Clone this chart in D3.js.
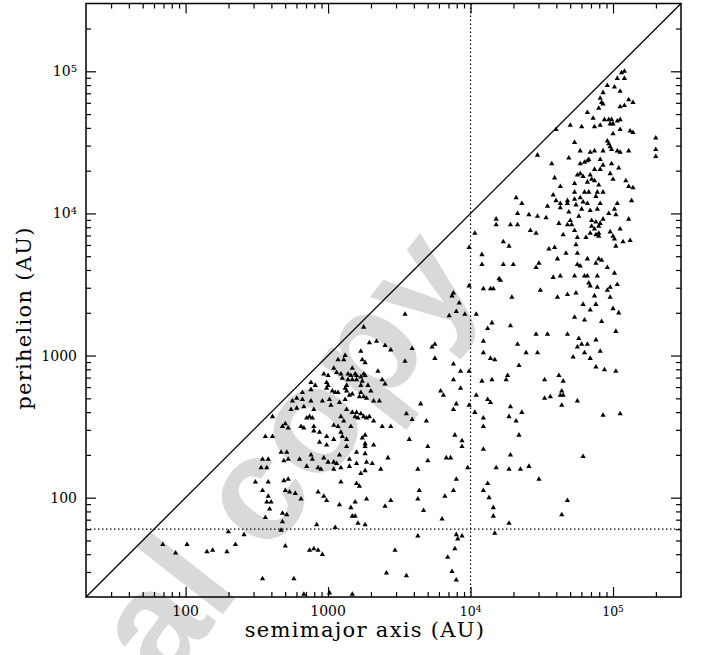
<!DOCTYPE html>
<html lang="en">
<head>
<meta charset="UTF-8">
<title>perihelion vs semimajor axis</title>
<script src="https://d3js.org/d3.v7.min.js"></script>
<style>
  body { margin: 0; background: #fff; }
  svg { display: block; }
  .lbl { font-family: "DejaVu Serif", serif; fill: #000; }
</style>
</head>
<body>
<div id="chart"></div>
<script>
// log10 of semimajor axis (AU)
var logSemimajor = [
  2.61,2.68,2.70,2.72,2.56,2.61,2.67,2.71,2.54,2.58,2.69,2.72,2.53,2.57,2.49,2.58,2.69,2.72,2.54,2.58,
  2.57,2.60,2.70,2.73,2.59,2.56,2.68,2.71,2.68,2.67,2.30,2.41,2.35,1.84,2.01,1.93,2.15,2.19,2.29,2.70,
  2.54,3.25,3.29,3.34,3.40,3.44,3.23,3.12,3.11,3.07,3.24,3.26,3.35,3.04,3.17,2.97,3.00,3.06,3.09,3.14,
  3.16,3.19,3.20,3.23,3.25,3.26,3.10,3.14,3.17,3.20,3.24,3.38,3.40,2.88,2.91,2.99,3.00,3.13,3.23,3.28,
  2.88,3.03,3.05,3.07,3.12,3.13,3.17,3.23,3.30,2.82,2.99,3.15,3.12,3.22,3.25,3.27,2.75,2.78,2.82,2.88,
  2.96,3.01,3.08,3.32,3.36,2.74,2.78,2.83,2.90,3.02,3.13,3.17,3.20,3.23,3.19,3.21,3.25,3.27,3.29,3.32,
  3.09,3.11,2.85,2.87,2.89,3.38,3.44,3.04,3.07,2.81,2.83,2.90,3.16,3.54,3.92,3.90,3.96,3.85,3.59,3.73,
  3.75,3.75,3.54,3.88,3.93,3.99,3.88,3.93,3.79,3.81,3.65,3.99,3.88,3.90,3.55,3.59,3.69,3.87,3.88,2.90,
  2.94,3.09,2.99,3.10,3.04,3.13,3.24,3.26,2.94,2.99,3.13,3.26,3.26,3.32,3.57,3.70,3.89,3.94,3.94,3.20,
  3.26,2.80,2.88,2.89,3.08,2.97,3.00,3.04,3.06,3.15,3.20,3.27,3.31,3.42,2.85,2.93,2.95,3.04,3.09,3.15,
  3.26,3.37,3.70,3.83,3.86,3.98,3.63,3.23,3.09,3.20,3.22,3.90,2.77,2.93,2.97,2.99,2.81,3.27,3.19,3.08,
  3.16,3.44,3.40,3.64,3.63,3.67,3.88,3.82,3.17,3.19,3.21,3.26,2.92,3.80,3.05,3.63,3.90,3.91,3.94,2.87,
  2.90,2.93,2.96,3.47,3.89,3.84,3.41,3.55,3.87,3.90,2.76,3.01,3.17,2.83,4.46,4.54,4.68,5.02,4.09,4.33,
  4.76,4.88,4.75,4.78,4.82,4.91,4.09,4.39,4.47,4.80,4.72,4.84,4.14,4.17,4.34,4.88,4.94,5.02,4.26,4.25,
  4.15,4.08,4.62,4.65,4.52,4.64,4.63,4.65,4.52,4.56,4.64,4.75,4.04,4.12,4.14,4.28,4.36,4.03,4.09,4.27,
  4.32,4.93,5.05,4.09,4.34,4.09,4.28,4.79,4.18,4.27,4.35,4.41,4.48,4.12,4.09,4.13,4.68,4.16,4.16,4.64,
  4.27,4.17,4.58,4.73,4.80,4.83,4.89,4.93,4.88,4.32,4.36,4.60,4.63,4.68,4.68,4.73,4.77,4.74,4.79,4.82,
  4.63,4.54,4.91,4.78,4.84,4.89,5.03,5.01,5.02,5.13,4.33,4.41,4.47,4.53,4.69,4.76,4.97,4.85,4.88,4.91,
  4.93,4.70,4.62,4.68,4.71,5.11,4.18,4.18,4.28,4.33,4.85,4.87,4.90,5.05,4.42,4.46,4.73,4.65,4.84,4.88,
  4.90,4.90,4.98,5.00,5.01,4.03,4.75,4.81,5.07,5.12,5.02,4.23,4.27,4.74,3.99,4.55,4.59,4.08,4.67,4.75,
  4.61,4.82,4.90,4.92,4.88,4.08,4.23,4.30,4.48,4.46,4.75,4.77,4.96,5.01,4.20,4.21,4.58,4.63,4.73,4.80,
  4.82,4.89,4.83,4.84,5.03,3.99,4.09,4.14,4.16,4.49,4.89,4.98,4.96,4.29,4.61,4.68,4.74,4.87,4.98,4.79,
  4.88,4.84,5.00,5.04,4.04,4.73,4.80,4.92,4.15,4.12,4.28,5.06,5.08,5.03,5.08,4.96,5.01,5.05,4.93,4.91,
  4.92,4.93,5.11,5.14,5.05,5.08,4.90,4.82,4.86,4.94,4.97,4.99,5.03,5.05,4.98,5.00,4.70,4.78,4.87,4.91,
  4.60,5.05,5.12,5.14,5.00,4.73,4.96,4.97,4.98,4.47,4.57,4.69,4.77,4.84,4.87,4.93,4.99,5.03,5.05,5.11,
  4.82,4.83,4.80,4.91,4.77,4.99,5.04,4.87,4.93,4.77,4.79,4.75,4.84,4.85,4.87,4.91,4.98,4.59,5.00,5.09,
  4.63,4.90,5.11,5.14,4.73,4.82,5.30,5.30,5.30
];
// log10 of perihelion (AU), same order
var logPerihelion = [
  2.57,2.50,2.52,2.49,2.43,2.43,2.32,2.32,2.27,2.27,2.26,2.27,2.21,2.21,2.11,2.11,2.12,2.13,2.05,2.01,
  1.97,1.97,2.05,2.04,1.92,1.86,1.89,1.88,1.83,1.77,1.76,1.74,1.67,1.67,1.67,1.61,1.62,1.63,1.62,1.66,
  1.43,3.20,3.09,3.10,3.07,3.04,3.03,3.00,2.97,2.97,2.97,2.95,2.89,2.91,2.91,2.87,2.86,2.88,2.87,2.87,
  2.86,2.87,2.86,2.85,2.87,2.86,2.84,2.83,2.83,2.83,2.82,2.83,2.80,2.81,2.79,2.81,2.79,2.79,2.79,2.79,
  2.76,2.75,2.74,2.74,2.77,2.75,2.73,2.74,2.75,2.74,2.77,2.72,2.69,2.71,2.71,2.70,2.68,2.70,2.69,2.68,
  2.68,2.69,2.67,2.68,2.68,2.62,2.63,2.64,2.62,2.65,2.62,2.60,2.60,2.59,2.57,2.56,2.57,2.56,2.57,2.54,
  2.57,2.54,2.56,2.57,2.56,2.50,2.50,2.51,2.50,2.50,2.49,2.50,2.50,3.29,3.37,3.31,3.29,3.28,3.05,3.06,
  3.08,2.98,2.96,2.94,2.89,2.89,2.83,2.77,2.75,2.72,2.66,2.65,2.62,2.66,2.59,2.55,2.54,3.42,3.44,2.47,
  2.46,2.46,2.43,2.43,2.41,2.41,2.42,2.44,2.39,2.37,2.36,2.38,2.36,2.37,2.41,2.36,2.44,2.40,2.36,2.32,
  2.31,2.27,2.30,2.27,2.30,2.28,2.25,2.25,2.24,2.27,2.24,2.25,2.24,2.28,2.22,2.21,2.20,2.20,2.21,2.22,
  2.19,2.20,2.26,2.28,2.28,2.21,2.20,2.17,2.11,2.10,2.08,2.13,2.03,2.04,2.01,1.98,1.99,1.99,1.97,1.95,
  1.93,1.98,1.94,2.05,1.99,1.91,2.05,2.01,1.87,1.87,1.82,1.81,1.81,1.85,1.79,1.73,1.74,1.71,1.73,1.63,
  1.64,1.63,1.60,1.63,1.64,1.58,1.47,1.45,1.48,1.42,1.43,1.33,1.32,1.32,3.15,3.15,3.15,3.17,3.10,3.08,
  3.12,3.11,3.06,3.08,3.08,3.03,3.02,3.02,3.02,3.02,2.99,2.98,2.98,2.97,2.93,2.92,2.90,2.89,2.86,2.83,
  2.83,2.82,2.86,2.82,2.83,2.75,2.72,2.72,2.70,2.71,2.65,2.68,2.72,2.69,2.67,2.64,2.60,2.60,2.56,2.57,
  2.54,2.58,2.59,2.50,2.44,2.34,2.30,2.29,2.21,2.20,2.20,2.22,2.13,2.10,2.05,2.00,1.98,1.93,1.87,1.88,
  1.82,1.75,4.13,4.15,4.15,4.15,4.15,4.15,4.12,4.11,4.07,4.09,4.07,4.09,4.07,4.10,4.11,4.06,4.08,4.07,
  4.04,4.05,4.07,4.03,4.02,4.03,4.07,4.03,3.99,4.09,4.00,3.99,3.98,3.97,4.01,3.98,4.00,3.95,3.94,3.93,
  3.96,3.95,3.93,3.92,3.92,3.96,3.96,3.92,3.92,3.92,3.91,3.89,3.91,3.89,3.88,3.86,3.88,3.85,3.86,3.85,
  3.86,3.84,3.87,3.84,3.82,3.86,3.83,3.83,3.80,3.81,3.77,3.80,3.77,3.78,3.76,3.75,3.76,3.71,3.72,3.72,
  3.68,3.68,3.68,3.67,3.65,3.64,3.64,3.64,3.65,3.62,3.64,3.63,3.62,3.58,3.54,3.53,3.55,3.56,3.56,3.56,
  3.56,3.56,3.51,3.49,3.50,3.49,3.47,3.47,3.47,3.46,3.48,3.48,3.46,3.41,3.41,3.43,3.44,3.42,3.41,3.36,
  3.36,3.32,3.33,3.30,3.29,3.27,3.25,3.24,3.23,3.19,3.21,4.99,5.00,4.95,4.95,4.90,4.89,4.86,4.85,4.81,
  4.78,4.77,4.80,4.78,4.75,4.76,4.74,4.71,4.67,4.66,4.66,4.66,4.65,4.66,4.63,4.63,4.62,4.61,4.61,4.62,
  4.59,4.59,4.58,4.57,4.56,4.50,4.51,4.49,4.47,4.41,4.35,4.39,4.44,4.43,4.44,4.44,4.45,4.44,4.43,4.44,
  4.37,4.38,4.36,4.38,4.35,4.35,4.32,4.31,4.34,4.28,4.26,4.27,4.27,4.24,4.23,4.31,4.28,4.25,4.24,4.23,
  4.19,4.20,4.19,4.18,4.21,4.22,4.53,4.45,4.40
];

var majorTicks = [100, 1000, 1e4, 1e5];
var majorLabels = [["100", ""], ["1000", ""], ["10", "4"], ["10", "5"]];
var minorTicks = [30, 40, 50, 60, 70, 80, 90,
                  200, 300, 400, 500, 600, 700, 800, 900,
                  2000, 3000, 4000, 5000, 6000, 7000, 8000, 9000,
                  2e4, 3e4, 4e4, 5e4, 6e4, 7e4, 8e4, 9e4, 2e5];
var domainAU = [20, 3e5];
var aLimit = 1e4;   // vertical dotted line
var qLimit = 60;    // horizontal dotted line

var W = 703, H = 655;
var plotL = 86, plotR = 681, plotT = 3.5, plotB = 597;

var svg = d3.select("#chart").append("svg")
  .attr("width", W).attr("height", H);

// watermark behind everything
svg.append("text")
  .attr("transform", "translate(483,281) rotate(-52)")
  .attr("text-anchor", "end")
  .style("font-family", "'Liberation Sans', Arial, sans-serif")
  .style("font-weight", "bold")
  .style("font-size", "150px")
  .style("fill", "#d9d9d9")
  .text("Author's personal copy");

var x = d3.scaleLog().domain(domainAU).range([plotL, plotR]);
var y = d3.scaleLog().domain(domainAU).range([plotB, plotT]);

var pts = logSemimajor.map(function (v, i) {
  return { a: Math.pow(10, v), q: Math.pow(10, logPerihelion[i]) };
});

// y = x line
svg.append("line")
  .attr("x1", x(domainAU[0])).attr("y1", y(domainAU[0]))
  .attr("x2", x(domainAU[1])).attr("y2", y(domainAU[1]))
  .attr("stroke", "#000").attr("stroke-width", 1.3);

// dotted limits
svg.append("line")
  .attr("x1", x(aLimit)).attr("x2", x(aLimit))
  .attr("y1", y(domainAU[0])).attr("y2", y(domainAU[1]))
  .attr("stroke", "#000").attr("stroke-width", 1.2)
  .attr("stroke-dasharray", "1.5,2.5");
svg.append("line")
  .attr("x1", x(domainAU[0])).attr("x2", x(domainAU[1]))
  .attr("y1", y(qLimit)).attr("y2", y(qLimit))
  .attr("stroke", "#000").attr("stroke-width", 1.2)
  .attr("stroke-dasharray", "1.5,2.5");

// points
var tri = d3.symbol().type(d3.symbolTriangle).size(12);
svg.append("g").selectAll("path")
  .data(pts)
  .enter().append("path")
  .attr("d", tri)
  .attr("transform", function (d) { return "translate(" + x(d.a) + "," + y(d.q) + ")"; })
  .attr("fill", "#000");

// ticks on all four sides, pointing inwards
var sides = [
  function () { return d3.axisBottom(x); },
  function () { return d3.axisTop(x); },
  function () { return d3.axisLeft(y); },
  function () { return d3.axisRight(y); }
];
var shifts = [
  "translate(0," + plotB + ")",
  "translate(0," + plotT + ")",
  "translate(" + plotL + ",0)",
  "translate(" + plotR + ",0)"
];
sides.forEach(function (mk, i) {
  [[minorTicks, 5], [majorTicks, 10]].forEach(function (set) {
    var g = svg.append("g")
      .attr("transform", shifts[i])
      .call(mk().tickValues(set[0]).tickSize(-set[1]).tickFormat(""));
    g.select(".domain").remove();
  });
});
svg.selectAll(".tick line").attr("stroke", "#000").attr("stroke-width", 1.2);

// frame
svg.append("rect")
  .attr("x", plotL).attr("y", plotT)
  .attr("width", plotR - plotL).attr("height", plotB - plotT)
  .attr("fill", "none").attr("stroke", "#000").attr("stroke-width", 1.5);

// tick labels
function label(sel, pair, base, sup) {
  sel.style("font-size", (pair[1] ? base : 14) + "px");
  sel.append("tspan").text(pair[0]);
  if (pair[1]) {
    sel.append("tspan").attr("dy", -4).style("font-size", sup + "px").text(pair[1]);
  }
}
majorTicks.forEach(function (v, i) {
  var tx = svg.append("text").attr("class", "lbl")
    .attr("x", x(v)).attr("y", 616)
    .attr("text-anchor", "middle");
  label(tx, majorLabels[i], 12.5, 9);
  var ty = svg.append("text").attr("class", "lbl")
    .attr("x", 77).attr("y", y(v) + 5)
    .attr("text-anchor", "end");
  label(ty, majorLabels[i], 14, 10);
});

// axis titles
svg.append("text").attr("class", "lbl")
  .attr("x", 365).attr("y", 636.5)
  .attr("text-anchor", "middle")
  .style("font-size", "21px")
  .style("letter-spacing", "1.3px")
  .text("semimajor axis (AU)");
svg.append("text").attr("class", "lbl")
  .attr("transform", "translate(31,318) rotate(-90)")
  .attr("text-anchor", "middle")
  .style("font-size", "21px")
  .style("letter-spacing", "1.3px")
  .text("perihelion (AU)");
</script>
</body>
</html>
